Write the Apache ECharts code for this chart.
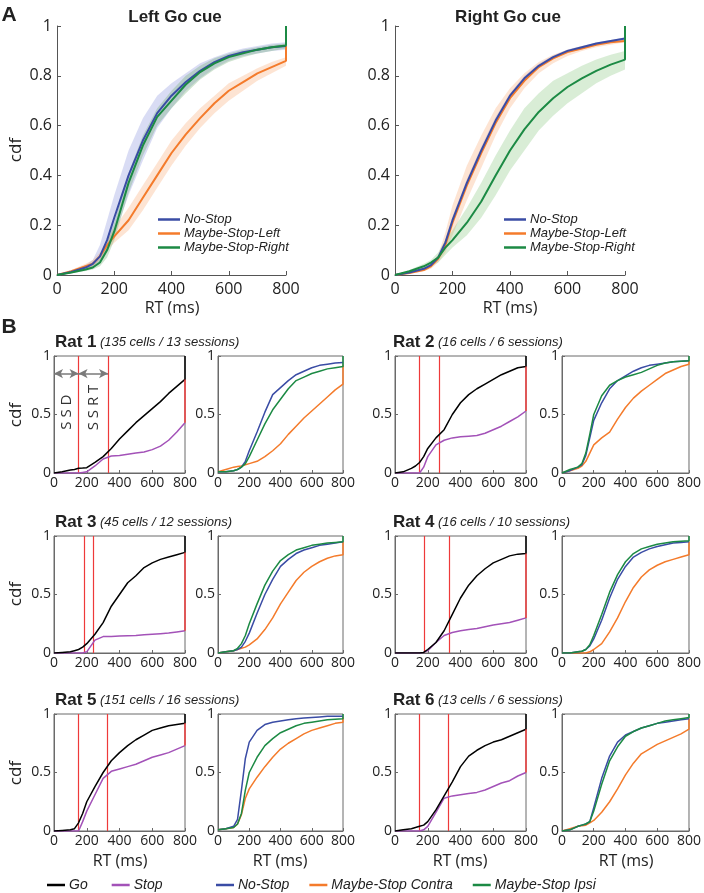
<!DOCTYPE html>
<html>
<head>
<meta charset="utf-8">
<script src="https://cdn.jsdelivr.net/npm/echarts@6/dist/echarts.min.js"></script>
<style>html,body{margin:0;padding:0;background:#fff}#c{width:704px;height:893px}</style>
</head>
<body>
<div id="c"></div>
<script>
// ---------- DATA ----------
const RT = [0,50,100,125,150,175,200,250,300,350,400,450,500,550,600,650,700,750,800];
const xTicksA = [0,200,400,600,800];
const yTicksA = [0,0.2,0.4,0.6,0.8,1];
const xTicksB = [0,200,400,600,800];
const yTicksB = [0,0.5,1];

// Panel A, Left Go cue
const leftNoStop     = [0,0.012,0.03,0.045,0.075,0.14,0.23,0.40,0.54,0.65,0.72,0.775,0.82,0.855,0.88,0.895,0.905,0.915,0.92];
const leftNoStopHi   = [0,0.015,0.04,0.06,0.12,0.22,0.32,0.50,0.63,0.72,0.77,0.81,0.85,0.875,0.895,0.91,0.92,0.93,0.935];
const leftNoStopLo   = [0,0.008,0.02,0.03,0.05,0.09,0.16,0.32,0.46,0.59,0.67,0.74,0.79,0.83,0.86,0.88,0.89,0.90,0.905];
const leftMaybeL     = [0,0.015,0.035,0.045,0.075,0.12,0.155,0.22,0.31,0.40,0.49,0.565,0.63,0.69,0.74,0.775,0.81,0.835,0.86];
const leftMaybeLHi   = [0,0.02,0.045,0.06,0.09,0.14,0.19,0.27,0.36,0.45,0.54,0.61,0.67,0.72,0.77,0.80,0.83,0.855,0.875];
const leftMaybeLLo   = [0,0.01,0.025,0.035,0.06,0.10,0.13,0.18,0.26,0.35,0.44,0.52,0.59,0.65,0.70,0.74,0.78,0.81,0.84];
const leftMaybeR     = [0,0.01,0.022,0.03,0.05,0.10,0.175,0.37,0.52,0.635,0.70,0.765,0.815,0.85,0.875,0.89,0.905,0.915,0.922];
const leftMaybeRHi   = [0,0.013,0.028,0.04,0.065,0.13,0.21,0.41,0.56,0.67,0.74,0.80,0.84,0.87,0.89,0.905,0.915,0.925,0.93];
const leftMaybeRLo   = [0,0.007,0.016,0.022,0.035,0.07,0.14,0.33,0.48,0.60,0.67,0.73,0.785,0.825,0.855,0.875,0.89,0.90,0.91];
const leftEnds       = [null, 0.92, 1]; // NoStop, MaybeL, MaybeR final value at 800

// Panel A, Right Go cue
const rightNoStop    = [0,0.01,0.025,0.04,0.07,0.13,0.22,0.37,0.50,0.62,0.72,0.79,0.84,0.875,0.90,0.915,0.93,0.94,0.95];
const rightNoStopHi  = [0,0.012,0.03,0.047,0.08,0.14,0.235,0.385,0.515,0.635,0.73,0.80,0.848,0.882,0.906,0.92,0.934,0.944,0.954];
const rightNoStopLo  = [0,0.008,0.02,0.033,0.06,0.12,0.205,0.355,0.485,0.605,0.71,0.78,0.832,0.868,0.894,0.91,0.926,0.936,0.946];
const rightMaybeL    = [0,0.008,0.02,0.035,0.065,0.12,0.21,0.36,0.49,0.61,0.71,0.78,0.835,0.87,0.895,0.91,0.925,0.935,0.94];
const rightMaybeLHi  = [0,0.012,0.03,0.045,0.08,0.17,0.28,0.44,0.56,0.67,0.75,0.81,0.855,0.885,0.905,0.92,0.93,0.94,0.945];
const rightMaybeLLo  = [0,0.005,0.015,0.025,0.05,0.09,0.16,0.30,0.43,0.56,0.67,0.75,0.81,0.85,0.88,0.90,0.915,0.925,0.935];
const rightMaybeR    = [0,0.015,0.035,0.05,0.07,0.11,0.14,0.21,0.295,0.40,0.50,0.585,0.655,0.71,0.755,0.79,0.82,0.845,0.865];
const rightMaybeRHi  = [0,0.02,0.045,0.06,0.09,0.14,0.18,0.27,0.37,0.48,0.58,0.67,0.73,0.78,0.81,0.84,0.865,0.885,0.90];
const rightMaybeRLo  = [0,0.01,0.025,0.035,0.05,0.08,0.11,0.16,0.23,0.32,0.42,0.50,0.58,0.64,0.69,0.73,0.77,0.80,0.825];
const rightEnds      = [null, null, 1];

// Panel B
const ratNames = ['Rat 1','Rat 2','Rat 3','Rat 4','Rat 5','Rat 6'];
const ratInfo  = ['(135 cells / 13 sessions)','(16 cells / 6 sessions)','(45 cells / 12 sessions)','(16 cells / 10 sessions)','(151 cells / 16 sessions)','(13 cells / 6 sessions)'];

const rat1Go     = [0,0.01,0.025,0.03,0.04,0.042,0.045,0.09,0.14,0.21,0.29,0.36,0.43,0.49,0.55,0.61,0.68,0.74,0.80];
const rat1Stop   = [0,0,0,0,0,0.005,0.01,0.06,0.12,0.145,0.15,0.16,0.17,0.18,0.20,0.23,0.28,0.35,0.43];
const rat1NoStop = [0.01,0.01,0.02,0.03,0.05,0.10,0.19,0.35,0.52,0.67,0.73,0.79,0.84,0.87,0.90,0.92,0.93,0.94,0.945];
const rat1Contra = [0.01,0.03,0.05,0.055,0.06,0.07,0.08,0.10,0.14,0.19,0.25,0.33,0.40,0.47,0.53,0.59,0.65,0.71,0.76];
const rat1Ipsi   = [0.01,0.01,0.02,0.03,0.05,0.08,0.14,0.28,0.42,0.54,0.63,0.72,0.79,0.82,0.85,0.87,0.89,0.90,0.91];
const rat1Marks  = [150,330]; // SSD, SSD+SSRT
const rat1Ends   = [0.92,1];

const rat2Go     = [0,0.01,0.04,0.06,0.09,0.14,0.21,0.30,0.37,0.50,0.60,0.67,0.72,0.76,0.80,0.84,0.87,0.90,0.91];
const rat2Stop   = [0,0,0,0,0,0.05,0.14,0.24,0.28,0.30,0.31,0.315,0.32,0.34,0.37,0.40,0.44,0.48,0.53];
const rat2NoStop = [0,0.02,0.05,0.07,0.15,0.30,0.45,0.60,0.72,0.79,0.83,0.87,0.90,0.92,0.93,0.94,0.95,0.955,0.96];
const rat2Contra = [0,0.02,0.04,0.06,0.10,0.17,0.24,0.30,0.35,0.46,0.56,0.64,0.70,0.75,0.80,0.85,0.88,0.91,0.93];
const rat2Ipsi   = [0,0.03,0.05,0.08,0.17,0.33,0.50,0.66,0.75,0.79,0.82,0.84,0.86,0.89,0.92,0.94,0.95,0.955,0.96];
const rat2Marks  = [150,270];
const rat2Ends   = [0.96,1];

const rat3Go     = [0,0.005,0.01,0.02,0.03,0.05,0.08,0.16,0.26,0.40,0.50,0.60,0.66,0.73,0.77,0.80,0.82,0.84,0.86];
const rat3Stop   = [0,0,0,0,0,0,0.01,0.11,0.14,0.142,0.145,0.148,0.15,0.155,0.16,0.165,0.17,0.18,0.19];
const rat3NoStop = [0,0.01,0.02,0.03,0.05,0.10,0.17,0.34,0.50,0.63,0.74,0.80,0.85,0.88,0.90,0.92,0.93,0.94,0.95];
const rat3Contra = [0,0.01,0.02,0.03,0.04,0.05,0.07,0.12,0.20,0.30,0.42,0.52,0.62,0.69,0.74,0.78,0.81,0.83,0.84];
const rat3Ipsi   = [0,0.01,0.02,0.04,0.08,0.15,0.25,0.42,0.58,0.70,0.79,0.84,0.88,0.90,0.92,0.93,0.94,0.945,0.95];
const rat3Marks  = [185,240];
const rat3Ends   = [0.95,1];

const rat4Go     = [0,0,0,0,0,0.005,0.03,0.09,0.19,0.33,0.47,0.58,0.66,0.72,0.77,0.80,0.83,0.845,0.85];
const rat4Stop   = [0,0,0,0,0,0.005,0.02,0.09,0.15,0.175,0.19,0.20,0.21,0.225,0.24,0.25,0.26,0.28,0.30];
const rat4NoStop = [0,0,0.01,0.015,0.03,0.06,0.12,0.28,0.47,0.63,0.74,0.82,0.86,0.89,0.91,0.925,0.94,0.945,0.95];
const rat4Contra = [0,0,0,0,0,0.01,0.03,0.08,0.18,0.30,0.44,0.56,0.65,0.71,0.75,0.78,0.80,0.82,0.84];
const rat4Ipsi   = [0,0,0.01,0.015,0.03,0.07,0.15,0.33,0.52,0.67,0.78,0.85,0.89,0.91,0.93,0.94,0.95,0.955,0.96];
const rat4Marks  = [178,330];
const rat4Ends   = [0.95,1];

const rat5Go     = [0,0.005,0.01,0.02,0.07,0.15,0.25,0.38,0.50,0.60,0.67,0.73,0.78,0.82,0.86,0.88,0.90,0.91,0.92];
const rat5Stop   = [0,0,0,0,0,0.08,0.17,0.31,0.45,0.51,0.53,0.55,0.57,0.60,0.63,0.65,0.67,0.70,0.73];
const rat5NoStop = [0.01,0.02,0.04,0.10,0.35,0.62,0.76,0.86,0.91,0.93,0.94,0.95,0.96,0.965,0.97,0.975,0.98,0.98,0.98];
const rat5Contra = [0.01,0.02,0.03,0.06,0.14,0.28,0.36,0.46,0.55,0.63,0.70,0.75,0.79,0.83,0.86,0.88,0.90,0.92,0.93];
const rat5Ipsi   = [0.01,0.02,0.03,0.06,0.15,0.35,0.50,0.63,0.73,0.79,0.84,0.87,0.90,0.92,0.93,0.94,0.95,0.955,0.96];
const rat5Marks  = [150,325];
const rat5Ends   = [0.97,1];

const rat6Go     = [0,0.01,0.02,0.03,0.04,0.05,0.08,0.18,0.30,0.42,0.55,0.64,0.69,0.73,0.76,0.78,0.81,0.84,0.87];
const rat6Stop   = [0,0,0,0,0,0.01,0.04,0.16,0.28,0.30,0.31,0.32,0.33,0.35,0.38,0.41,0.43,0.47,0.50];
const rat6NoStop = [0,0.01,0.04,0.05,0.06,0.08,0.20,0.45,0.64,0.76,0.82,0.85,0.88,0.90,0.92,0.93,0.94,0.95,0.96];
const rat6Contra = [0,0.02,0.04,0.045,0.05,0.07,0.09,0.16,0.25,0.36,0.48,0.58,0.66,0.70,0.74,0.77,0.80,0.83,0.87];
const rat6Ipsi   = [0,0.01,0.04,0.05,0.06,0.08,0.17,0.40,0.60,0.72,0.81,0.85,0.88,0.90,0.92,0.94,0.95,0.96,0.97];
const rat6Marks  = [150,325];
const rat6Ends   = [0.96,1];

// ---------- BUILD ----------
const ratGo = [rat1Go,rat2Go,rat3Go,rat4Go,rat5Go,rat6Go];
const ratStop = [rat1Stop,rat2Stop,rat3Stop,rat4Stop,rat5Stop,rat6Stop];
const ratNoStop = [rat1NoStop,rat2NoStop,rat3NoStop,rat4NoStop,rat5NoStop,rat6NoStop];
const ratContra = [rat1Contra,rat2Contra,rat3Contra,rat4Contra,rat5Contra,rat6Contra];
const ratIpsi = [rat1Ipsi,rat2Ipsi,rat3Ipsi,rat4Ipsi,rat5Ipsi,rat6Ipsi];
const ratMarks = [rat1Marks,rat2Marks,rat3Marks,rat4Marks,rat5Marks,rat6Marks];
const ratEnds = [rat1Ends,rat2Ends,rat3Ends,rat4Ends,rat5Ends,rat6Ends];

const C = {blue:'#3a4ca5', orange:'#f47b2b', green:'#1c8a44', black:'#000000', purple:'#a352b8', red:'#ee3a3a'};
const FONT = 'Open Sans';
const SANS = 'Liberation Sans';

function pts(arr, endVal) {
  const d = RT.map((x,i)=>[x,arr[i]]);
  if (endVal != null) d.push([800,endVal]);
  return d;
}

const grids = [], xAxes = [], yAxes = [], series = [];

function addGrid(g, isA) {
  const idx = grids.length;
  grids.push(Object.assign({show: !isA, borderColor:'#6a6a6a', borderWidth:1, backgroundColor:'transparent'}, g));
  const lineCol = isA ? '#555' : '#6a6a6a';
  xAxes.push({
    gridIndex: idx, type:'value', min:0, max:800, interval:200,
    axisLine:{show:true, onZero:false, lineStyle:{color:lineCol, width:1}},
    axisTick:{show:true, inside:true, length:isA?4:3, lineStyle:{color:lineCol}},
    splitLine:{show:false},
    axisLabel:{color:'#222', fontFamily:FONT, fontSize:isA?16:14, margin:isA?6:3,
      formatter:v => (isA ? xTicksA : xTicksB).includes(v) ? String(v) : ''}
  });
  yAxes.push({
    gridIndex: idx, type:'value', min:0, max:1, interval:isA?0.2:0.5,
    axisLine:{show:true, onZero:false, lineStyle:{color:lineCol, width:1}},
    axisTick:{show:true, inside:true, length:isA?4:3, lineStyle:{color:lineCol}},
    splitLine:{show:false},
    axisLabel:{color:'#222', fontFamily:FONT, fontSize:isA?16:14, margin:isA?5:3,
      formatter:v => { const t = isA ? yTicksA : yTicksB; return t.some(q=>Math.abs(q-v)<1e-9) ? String(+v.toFixed(2)) : ''; }}
  });
  return idx;
}

function band(idx, hi, lo, fill) {
  series.push({
    type:'custom', xAxisIndex:idx, yAxisIndex:idx, silent:true, z:1,
    data:[[0,0]],
    renderItem:(params, api) => {
      const points = [];
      RT.forEach((x,i)=>points.push(api.coord([x,hi[i]])));
      for (let i=RT.length-1;i>=0;i--) points.push(api.coord([RT[i],lo[i]]));
      return {type:'polygon', shape:{points}, style:{fill}};
    }
  });
}
function line(idx, name, arr, color, width, endVal, extra) {
  series.push(Object.assign({
    type:'line', name, xAxisIndex:idx, yAxisIndex:idx, data:pts(arr,endVal),
    showSymbol:false, symbol:'none', lineStyle:{color, width}, itemStyle:{color},
    z:3, silent:true
  }, extra||{}));
}

// Panel A grids
const gAL = addGrid({left:57, top:26, width:229, height:249}, true);
const gAR = addGrid({left:395, top:26, width:230, height:249}, true);

band(gAL, leftNoStopHi, leftNoStopLo, 'rgba(120,130,215,0.28)');
band(gAL, leftMaybeLHi, leftMaybeLLo, 'rgba(250,165,110,0.30)');
band(gAL, leftMaybeRHi, leftMaybeRLo, 'rgba(110,170,110,0.32)');
line(gAL, 'Maybe-Stop-Left', leftMaybeL, C.orange, 2, leftEnds[1]);
line(gAL, 'No-Stop', leftNoStop, C.blue, 2, leftEnds[0]);
line(gAL, 'Maybe-Stop-Right', leftMaybeR, C.green, 2, leftEnds[2]);

band(gAR, rightNoStopHi, rightNoStopLo, 'rgba(120,130,215,0.28)');
band(gAR, rightMaybeLHi, rightMaybeLLo, 'rgba(250,165,110,0.30)');
band(gAR, rightMaybeRHi, rightMaybeRLo, 'rgba(130,195,120,0.30)');
line(gAR, 'Maybe-Stop-Left', rightMaybeL, C.orange, 2, rightEnds[1]);
line(gAR, 'No-Stop', rightNoStop, C.blue, 2, rightEnds[0]);
line(gAR, 'Maybe-Stop-Right', rightMaybeR, C.green, 2, rightEnds[2]);

// Panel B grids
const rowTops = [356, 536, 714];
const rowH = 117;
const colPos = [[54,131],[218,125],[395,131],[562,128]];
const graphics = [];

for (let r=0;r<6;r++) {
  const row = Math.floor(r/2), pair = r%2;
  const cl = colPos[pair*2], cr = colPos[pair*2+1];
  const gl = addGrid({left:cl[0], top:rowTops[row], width:cl[1], height:rowH}, false);
  const gr = addGrid({left:cr[0], top:rowTops[row], width:cr[1], height:rowH}, false);
  const go = ratGo[r], st = ratStop[r];
  // stop with red SSD/SSRT lines
  line(gl, 'Stop', ratStop[r], C.purple, 1.5, null, {
    markLine:{silent:true, symbol:'none', z:2, label:{show:false},
      lineStyle:{color:C.red, width:1.2, type:'solid'},
      data: ratMarks[r].map(v=>({xAxis:v}))}
  });
  // red segment at 800 from stop to go
  series.push({type:'line', xAxisIndex:gl, yAxisIndex:gl, silent:true, showSymbol:false, symbol:'none',
    data:[[800, st[st.length-1]],[800, go[go.length-1]]], lineStyle:{color:C.red, width:1.5}, z:4});
  const goExtra = {};
  if (r===0) {
    goExtra.markLine = {silent:true, symbol:['arrow','arrow'], symbolSize:[7,9], label:{show:false},
      lineStyle:{color:'#7a7a7a', width:1.5, type:'solid'},
      data:[[{coord:[0,0.85]},{coord:[ratMarks[0][0],0.85]}],
            [{coord:[ratMarks[0][0],0.85]},{coord:[ratMarks[0][1],0.85]}]]};
    goExtra.markPoint = {silent:true, symbol:'circle', symbolSize:0,
      label:{show:true, position:'inside', rotate:90, color:'#333', fontFamily:FONT, fontSize:15, formatter:'{b}'},
      data:[{name:'S S D', coord:[ratMarks[0][0]/2,0.52]},
            {name:'S S R T', coord:[(ratMarks[0][0]+ratMarks[0][1])/2,0.56]}]};
  }
  line(gl, 'Go', go, C.black, 1.5, 1, goExtra);
  // right panel
  line(gr, 'Maybe-Stop Contra', ratContra[r], C.orange, 1.5, ratEnds[r][0]);
  line(gr, 'No-Stop', ratNoStop[r], C.blue, 1.5, null);
  line(gr, 'Maybe-Stop Ipsi', ratIpsi[r], C.green, 1.5, ratEnds[r][1]);

  // title
  graphics.push({type:'text', left: pair ? 393 : 55, top: rowTops[row] - 22,
    style:{text:'{b|'+ratNames[r]+'} {i|'+ratInfo[r]+'}',
      rich:{b:{font:'bold 17px '+SANS, fill:'#222'}, i:{font:'italic 13px '+SANS, fill:'#222'}}}});
}

// texts
const txt = (text, x, y, font, extra) => Object.assign({type:'text', x, y,
  style:{text, font, fill:'#222', textAlign:'center', textVerticalAlign:'middle'}}, extra||{});
graphics.push(txt('A', 9, 15, 'bold 21px '+SANS));
graphics.push(txt('B', 9, 327, 'bold 21px '+SANS));
graphics.push(txt('Left Go cue', 175, 17, 'bold 17px '+SANS));
graphics.push(txt('Right Go cue', 508, 17, 'bold 17px '+SANS));
graphics.push(txt('RT (ms)', 172, 308, '16px '+FONT));
graphics.push(txt('RT (ms)', 510, 308, '16px '+FONT));
[[120],[280],[460],[626]].forEach(([x])=>graphics.push(txt('RT (ms)', x, 861, '16px '+FONT)));
[150, 415, 594, 773].forEach(y=>graphics.push(txt('cdf', 16, y, '17px '+FONT, {rotation:Math.PI/2})));

const legendBase = {icon:'rect', itemWidth:22, itemHeight:2.5, selectedMode:false,
  textStyle:{fontFamily:SANS, fontStyle:'italic', fontSize:13, color:'#222', padding:[0,0,0,-1]}};

const option = {
  animation:false,
  backgroundColor:'#fff',
  grid:grids, xAxis:xAxes, yAxis:yAxes, series,
  legend:[
    Object.assign({}, legendBase, {orient:'vertical', left:153, top:208, itemGap:1, data:['No-Stop','Maybe-Stop-Left','Maybe-Stop-Right']}),
    Object.assign({}, legendBase, {orient:'vertical', left:499, top:208, itemGap:1, data:['No-Stop','Maybe-Stop-Left','Maybe-Stop-Right']}),
    Object.assign({}, legendBase, {orient:'horizontal', left:42, top:873, itemWidth:18, itemGap:24, textStyle:Object.assign({}, legendBase.textStyle, {fontSize:14}), data:['Go','Stop']}),
    Object.assign({}, legendBase, {orient:'horizontal', left:211, top:873, itemWidth:18, itemGap:20, textStyle:Object.assign({}, legendBase.textStyle, {fontSize:14}), data:['No-Stop','Maybe-Stop Contra','Maybe-Stop Ipsi']})
  ],
  graphic:graphics
};

const chart = echarts.init(document.getElementById('c'), null, {renderer:'canvas'});
chart.setOption(option);
</script>
</body>
</html>
